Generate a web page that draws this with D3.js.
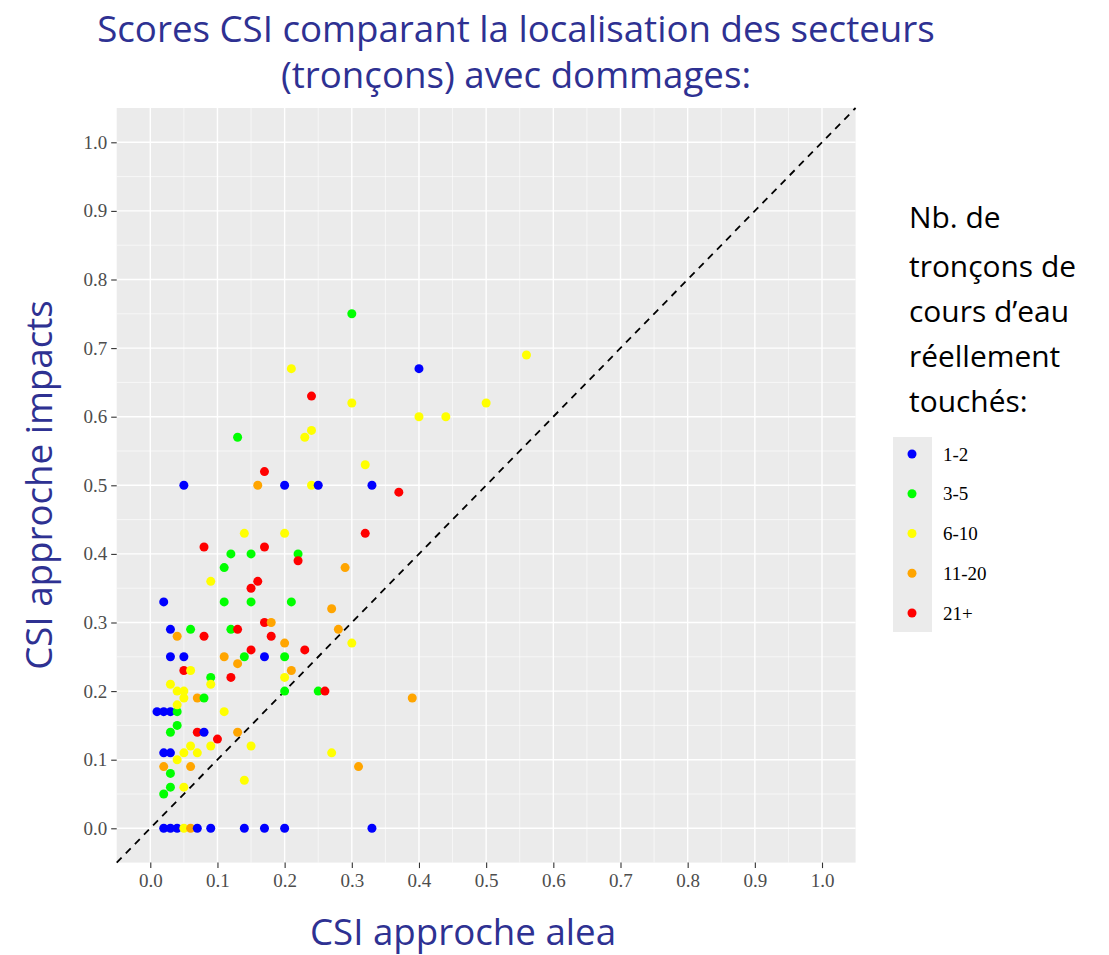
<!DOCTYPE html>
<html>
<head>
<meta charset="utf-8">
<script src="https://cdn.jsdelivr.net/npm/d3@7"></script>
<style>
  html, body { margin: 0; padding: 0; background: #ffffff; }
  svg { display: block; }
</style>
</head>
<body>
<svg id="chart" width="1109" height="955"></svg>
<script>
// CSI score per river section, ordered by the hazard-approach score
const alea = [
  0.01,
  0.02, 0.02, 0.02, 0.02, 0.02, 0.02,
  0.03, 0.03, 0.03, 0.03, 0.03, 0.03, 0.03, 0.03, 0.03,
  0.04, 0.04, 0.04, 0.04, 0.04, 0.04, 0.04,
  0.05, 0.05, 0.05, 0.05, 0.05, 0.05, 0.05, 0.05,
  0.06, 0.06, 0.06, 0.06, 0.06,
  0.07, 0.07, 0.07, 0.07,
  0.08, 0.08, 0.08, 0.08,
  0.09, 0.09, 0.09, 0.09, 0.09,
  0.10,
  0.11, 0.11, 0.11, 0.11,
  0.12, 0.12, 0.12,
  0.13, 0.13, 0.13, 0.13,
  0.14, 0.14, 0.14, 0.14,
  0.15, 0.15, 0.15, 0.15, 0.15,
  0.16, 0.16,
  0.17, 0.17, 0.17, 0.17, 0.17,
  0.18, 0.18,
  0.20, 0.20, 0.20, 0.20, 0.20, 0.20, 0.20,
  0.21, 0.21, 0.21,
  0.22, 0.22,
  0.23, 0.23,
  0.24, 0.24, 0.24,
  0.25, 0.25,
  0.26,
  0.27, 0.27,
  0.28,
  0.29,
  0.30, 0.30, 0.30,
  0.31,
  0.32, 0.32,
  0.33, 0.33,
  0.37,
  0.39,
  0.40, 0.40,
  0.44,
  0.50,
  0.56
];
// CSI score per river section for the impact approach
const impacts = [
  0.17,
  0.33, 0.17, 0.11, 0.00, 0.05, 0.09,
  0.29, 0.25, 0.17, 0.11, 0.00, 0.14, 0.08, 0.06, 0.21,
  0.00, 0.17, 0.15, 0.20, 0.18, 0.10, 0.28,
  0.50, 0.25, 0.20, 0.19, 0.11, 0.06, 0.00, 0.23,
  0.29, 0.23, 0.12, 0.09, 0.00,
  0.00, 0.11, 0.19, 0.14,
  0.14, 0.19, 0.41, 0.28,
  0.00, 0.22, 0.36, 0.21, 0.12,
  0.13,
  0.38, 0.33, 0.17, 0.25,
  0.40, 0.29, 0.22,
  0.57, 0.24, 0.14, 0.29,
  0.00, 0.25, 0.43, 0.07,
  0.40, 0.33, 0.12, 0.35, 0.26,
  0.50, 0.36,
  0.25, 0.00, 0.52, 0.41, 0.30,
  0.30, 0.28,
  0.50, 0.00, 0.25, 0.20, 0.43, 0.22, 0.27,
  0.33, 0.67, 0.23,
  0.40, 0.39,
  0.57, 0.26,
  0.58, 0.50, 0.63,
  0.50, 0.20,
  0.20,
  0.11, 0.32,
  0.29,
  0.38,
  0.75, 0.62, 0.27,
  0.09,
  0.53, 0.43,
  0.50, 0.00,
  0.49,
  0.19,
  0.67, 0.60,
  0.60,
  0.62,
  0.69
];
// Number of river sections actually affected (class of each point)
const troncons = [
  "1-2",
  "1-2", "1-2", "1-2", "1-2", "3-5", "11-20",
  "1-2", "1-2", "1-2", "1-2", "1-2", "3-5", "3-5", "3-5", "6-10",
  "1-2", "3-5", "3-5", "6-10", "6-10", "6-10", "11-20",
  "1-2", "1-2", "6-10", "6-10", "6-10", "6-10", "6-10", "21+",
  "3-5", "6-10", "6-10", "11-20", "11-20",
  "1-2", "6-10", "11-20", "21+",
  "1-2", "3-5", "21+", "21+",
  "1-2", "3-5", "6-10", "6-10", "6-10",
  "21+",
  "3-5", "3-5", "6-10", "11-20",
  "3-5", "3-5", "21+",
  "3-5", "11-20", "11-20", "21+",
  "1-2", "3-5", "6-10", "6-10",
  "3-5", "3-5", "6-10", "21+", "21+",
  "11-20", "21+",
  "1-2", "1-2", "21+", "21+", "21+",
  "11-20", "21+",
  "1-2", "1-2", "3-5", "3-5", "6-10", "6-10", "11-20",
  "3-5", "6-10", "11-20",
  "3-5", "21+",
  "6-10", "21+",
  "6-10", "6-10", "21+",
  "1-2", "3-5",
  "21+",
  "6-10", "11-20",
  "11-20",
  "11-20",
  "3-5", "6-10", "6-10",
  "11-20",
  "6-10", "21+",
  "1-2", "1-2",
  "21+",
  "11-20",
  "1-2", "6-10",
  "6-10",
  "6-10",
  "6-10"
];

const classes = ["1-2", "3-5", "6-10", "11-20", "21+"];
const classColors = ["#0000FF", "#00FF00", "#FFFF00", "#FFA500", "#FF0000"];
const tickValues = [0, 0.1, 0.2, 0.3, 0.4, 0.5, 0.6, 0.7, 0.8, 0.9, 1.0];
const minorValues = [0.05, 0.15, 0.25, 0.35, 0.45, 0.55, 0.65, 0.75, 0.85, 0.95];
const titleLines = ["Scores CSI comparant la localisation des secteurs", "(tronçons) avec dommages:"];
const legendTitleLines = ["Nb. de", "tronçons de", "cours d\u2019eau", "réellement", "touchés:"];

const points = alea.map((a, i) => ({ a, b: impacts[i], c: troncons[i] }));

const svg = d3.select("#chart");
const panel = { left: 116.7, right: 855.6, top: 108, bottom: 862.6 };

const x = d3.scaleLinear().domain([-0.05, 1.05]).range([panel.left, panel.right]);
const y = d3.scaleLinear().domain([-0.05, 1.05]).range([panel.bottom, panel.top]);
const color = d3.scaleOrdinal().domain(classes).range(classColors);

const titleColor = "#2E3192";
const sansFont = "'Open Sans', 'Noto Sans', sans-serif";
const serifFont = "'Liberation Serif', 'DejaVu Serif', serif";

// Shrink or grow a text element's font until its rendered width reaches the target
function fitWidth(sel, target) {
  const node = sel.node();
  const size = parseFloat(sel.attr("font-size"));
  const w = node.getComputedTextLength();
  sel.attr("font-size", (size * target / w).toFixed(2));
}

// Panel background
svg.append("rect")
  .attr("x", panel.left).attr("y", panel.top)
  .attr("width", panel.right - panel.left).attr("height", panel.bottom - panel.top)
  .attr("fill", "#EBEBEB");

// Grid lines
const grid = svg.append("g");
grid.selectAll("line.vminor").data(minorValues).join("line")
  .attr("x1", d => x(d)).attr("x2", d => x(d))
  .attr("y1", panel.top).attr("y2", panel.bottom)
  .attr("stroke", "#FFFFFF").attr("stroke-width", 0.6);
grid.selectAll("line.hminor").data(minorValues).join("line")
  .attr("y1", d => y(d)).attr("y2", d => y(d))
  .attr("x1", panel.left).attr("x2", panel.right)
  .attr("stroke", "#FFFFFF").attr("stroke-width", 0.6);
grid.selectAll("line.vmajor").data(tickValues).join("line")
  .attr("x1", d => x(d)).attr("x2", d => x(d))
  .attr("y1", panel.top).attr("y2", panel.bottom)
  .attr("stroke", "#FFFFFF").attr("stroke-width", 1.4);
grid.selectAll("line.hmajor").data(tickValues).join("line")
  .attr("y1", d => y(d)).attr("y2", d => y(d))
  .attr("x1", panel.left).attr("x2", panel.right)
  .attr("stroke", "#FFFFFF").attr("stroke-width", 1.4);

// Identity line
svg.append("line")
  .attr("x1", x(-0.05)).attr("y1", y(-0.05))
  .attr("x2", x(1.05)).attr("y2", y(1.05))
  .attr("stroke", "#000000").attr("stroke-width", 1.8)
  .attr("stroke-dasharray", "7,6");

// Points
svg.append("g").selectAll("circle").data(points).join("circle")
  .attr("cx", d => x(d.a)).attr("cy", d => y(d.b))
  .attr("r", 4.5)
  .attr("fill", d => color(d.c));

// Axes
const fmt = d3.format(".1f");
const xAxis = svg.append("g")
  .attr("transform", `translate(0,${panel.bottom})`)
  .call(d3.axisBottom(x).tickValues(tickValues).tickFormat(fmt).tickSize(5.5).tickPadding(5));
const yAxis = svg.append("g")
  .attr("transform", `translate(${panel.left},0)`)
  .call(d3.axisLeft(y).tickValues(tickValues).tickFormat(fmt).tickSize(5.5).tickPadding(4));
[xAxis, yAxis].forEach(g => {
  g.attr("font-size", null);
  g.select(".domain").remove();
  g.selectAll(".tick line").attr("stroke", "#333333").attr("stroke-width", 1.1);
  g.selectAll(".tick text")
    .attr("fill", "#4D4D4D")
    .attr("font-family", serifFont)
    .style("font-size", "19px");
});

// Title
const title = svg.append("g");
const titleBaselines = [42, 88];
const titleWidths = [838, 472];
titleLines.forEach((t, i) => {
  const el = title.append("text")
    .attr("x", 516).attr("y", titleBaselines[i])
    .attr("text-anchor", "middle")
    .attr("font-family", sansFont)
    .attr("font-size", 34)
    .attr("fill", titleColor)
    .text(t);
  fitWidth(el, titleWidths[i]);
});
// keep both title lines at the same size
const tSize = +title.select("text").attr("font-size");
title.selectAll("text").attr("font-size", tSize);

// Axis titles
svg.append("text")
  .attr("x", 463).attr("y", 945)
  .attr("text-anchor", "middle")
  .attr("font-family", sansFont)
  .attr("font-size", tSize)
  .attr("fill", titleColor)
  .text("CSI approche alea");

svg.append("text")
  .attr("transform", "translate(52,485) rotate(-90)")
  .attr("text-anchor", "middle")
  .attr("font-family", sansFont)
  .attr("font-size", tSize)
  .attr("fill", titleColor)
  .text("CSI approche impacts");

// Legend
const legend = svg.append("g");
const legBaselines = [228, 277, 322, 367, 412];
legendTitleLines.forEach((t, i) => {
  legend.append("text")
    .attr("x", 909).attr("y", legBaselines[i])
    .attr("font-family", sansFont)
    .attr("font-size", 26)
    .attr("fill", "#000000")
    .text(t);
});
const lw = legend.selectAll("text").nodes()[1].getComputedTextLength();
legend.selectAll("text").attr("font-size", (26 * 167 / lw).toFixed(2));

legend.append("rect")
  .attr("x", 893).attr("y", 437).attr("width", 39).attr("height", 195)
  .attr("fill", "#EBEBEB");
const keyY = d3.scalePoint().domain(classes).range([454, 613]);
const keys = legend.selectAll("g.key").data(classes).join("g")
  .attr("transform", d => `translate(912,${keyY(d)})`);
keys.append("circle").attr("r", 4.5).attr("fill", d => color(d));
keys.append("text")
  .attr("x", 31).attr("dy", "0.35em")
  .attr("font-family", serifFont)
  .attr("font-size", 19)
  .attr("fill", "#000000")
  .text(d => d);
</script>
</body>
</html>
